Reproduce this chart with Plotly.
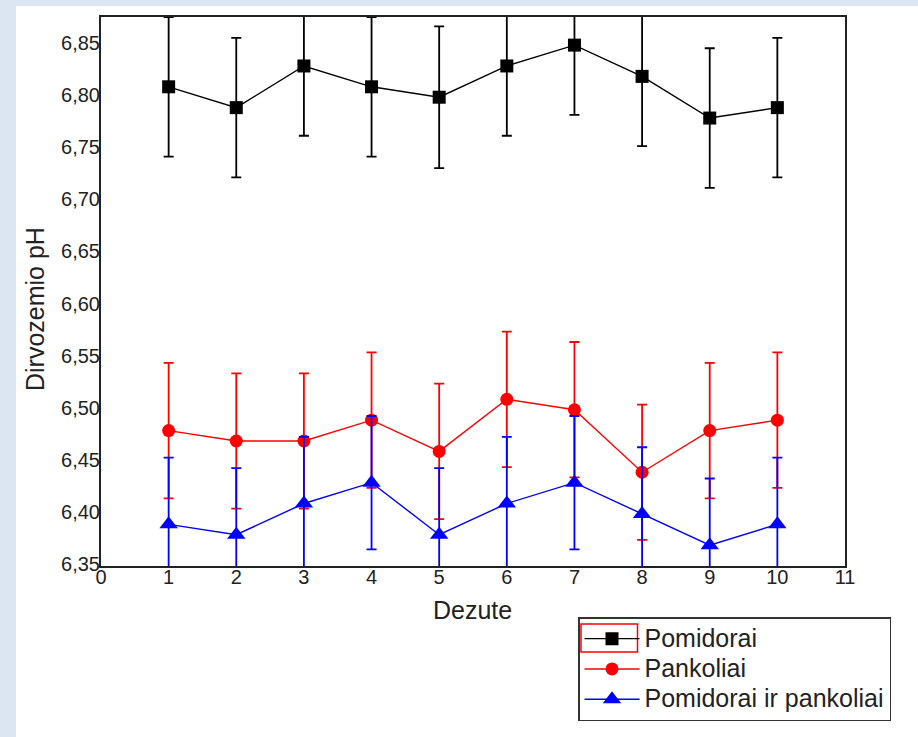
import plotly.graph_objects as go

# ---- data ----
dezute = [1, 2, 3, 4, 5, 6, 7, 8, 9, 10]
pomidorai = [6.81, 6.79, 6.83, 6.81, 6.80, 6.83, 6.85, 6.82, 6.78, 6.79]
pomidorai_err = [0.067, 0.067, 0.067, 0.067, 0.068, 0.067, 0.067, 0.067, 0.067, 0.067]
pankoliai = [6.48, 6.47, 6.47, 6.49, 6.46, 6.51, 6.50, 6.44, 6.48, 6.49]
pankoliai_err = [0.065, 0.065, 0.065, 0.065, 0.065, 0.065, 0.065, 0.065, 0.065, 0.065]
abu = [6.39, 6.38, 6.41, 6.43, 6.38, 6.41, 6.43, 6.40, 6.37, 6.39]
abu_err = [0.064, 0.064, 0.064, 0.064, 0.064, 0.064, 0.064, 0.064, 0.064, 0.064]
series_names = ["Pomidorai", "Pankoliai", "Pomidorai ir pankoliai"]
x_ticks = list(range(0, 12))
y_ticks = [6.35, 6.40, 6.45, 6.50, 6.55, 6.60, 6.65, 6.70, 6.75, 6.80, 6.85]

FONT = "Liberation Sans, Arial, sans-serif"

# plot area in pixels
W, H = 918, 737
L, R, T, B = 101, 845, 17, 566
pw, ph = R - L, B - T


def px_x(p):
    return (p - L) / pw


def px_y(p):
    return (B - p) / ph


fig = go.Figure()

specs = [
    (pomidorai, pomidorai_err, "#000000", "square", 13),
    (pankoliai, pankoliai_err, "#ff0000", "circle", 13),
    (abu, abu_err, "#0000ff", "triangle-up", 16),
]
for name, (vals, err, col, sym, sz) in zip(series_names, specs):
    fig.add_trace(go.Scatter(
        x=dezute, y=vals,
        name='<span style="font-size:25px">' + name + '</span>',
        mode="lines+markers",
        line=dict(color=col, width=1.4),
        marker=dict(color=col, symbol=sym, size=sz),
        error_y=dict(type="data", array=err, visible=True, color=col,
                     thickness=1.8, width=5),
    ))

axis_common = dict(
    showline=True, mirror=True, linecolor="#222222", linewidth=2,
    showgrid=False, zeroline=False, ticks="", ticklen=0,
    tickfont=dict(family=FONT, size=20, color="#222222"),
)

fig.update_layout(
    width=W, height=H,
    margin=dict(l=L, r=W - R, t=T, b=H - B, pad=0, autoexpand=False),
    paper_bgcolor="white", plot_bgcolor="white",
    separators=",.",
    font=dict(family=FONT, color="#222222"),
    xaxis=dict(range=[0, 11], tickvals=x_ticks, ticklabelstandoff=-8, **axis_common),
    yaxis=dict(range=[6.35, 6.877], tickvals=y_ticks, tickformat=".2f",
               ticklabelstandoff=-5, ticklabelshift=-2, **axis_common),
    showlegend=True,
    legend=dict(
        x=px_x(578), y=px_y(669), xanchor="left", yanchor="middle",
        bgcolor="rgba(0,0,0,0)", bordercolor="#333333", borderwidth=1.5,
        font=dict(family=FONT, size=21, color="#222222"),
        itemwidth=55, tracegroupgap=0,
    ),
    annotations=[
        dict(text="Dirvozemio pH", textangle=-90, x=px_x(35), y=px_y(309),
             xref="paper", yref="paper", showarrow=False,
             xanchor="center", yanchor="middle",
             font=dict(family=FONT, size=25, color="#222222")),
        dict(text="Dezute", x=px_x(472.5), y=px_y(610),
             xref="paper", yref="paper", showarrow=False,
             xanchor="center", yanchor="middle",
             font=dict(family=FONT, size=25, color="#222222")),
    ],
    shapes=[
        # light blue frame strips
        dict(type="rect", xref="paper", yref="paper", layer="below",
             x0=px_x(-5), x1=px_x(16), y0=px_y(745), y1=px_y(-5),
             fillcolor="#dce6f2", line=dict(width=0)),
        dict(type="rect", xref="paper", yref="paper", layer="below",
             x0=px_x(-5), x1=px_x(925), y0=px_y(6), y1=px_y(-5),
             fillcolor="#dce6f2", line=dict(width=0)),
        # red selection box around first legend symbol
        dict(type="rect", xref="paper", yref="paper", layer="above",
             x0=px_x(581), x1=px_x(637.5), y0=px_y(652), y1=px_y(624),
             fillcolor="rgba(0,0,0,0)", line=dict(color="#ff0000", width=1.5)),
    ],
)

fig.write_html("out.html")
